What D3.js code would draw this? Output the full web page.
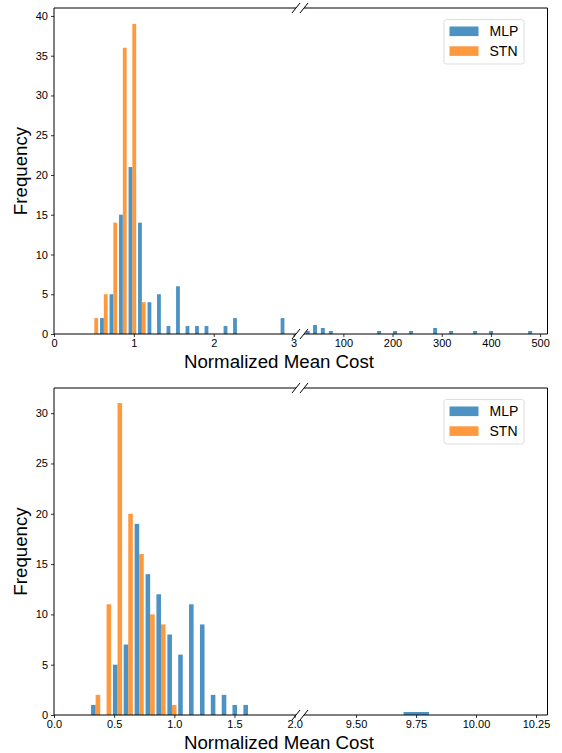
<!DOCTYPE html>
<html>
<head>
<meta charset="utf-8">
<script src="https://cdn.jsdelivr.net/npm/d3@7"></script>
<style>
  body { margin: 0; background: #fff; }
  svg { font-family: "Liberation Sans", Arial, sans-serif; }
</style>
</head>
<body>
<div id="chart"></div>
<script>
const seriesNames = ["MLP", "STN"];
const seriesColors = ["#1f77b4", "#ff7f0e"];

// top figure, low range: bin centres and counts
const topBins = [0.505, 0.624, 0.743, 0.862, 0.981, 1.100, 1.219, 1.338, 1.457, 1.576, 1.695,
                 1.814, 1.933, 2.052, 2.171, 2.290, 2.409, 2.528, 2.647, 2.766, 2.885];
const topMLP = [0, 2, 5, 15, 21, 14, 4, 5, 1, 6, 1, 1, 1, 0, 1, 2, 0, 0, 0, 0, 2];
const topSTN = [2, 5, 14, 36, 39, 4, 0, 0, 0, 0, 0, 0, 0, 0, 0, 0, 0, 0, 0, 0, 0];
// top figure, high range (only MLP)
const topHighBins = [27.6, 42.4, 58.3, 74.6, 172.6, 205.1, 237.6, 286.5, 319, 367.8, 400.4, 479.7];
const topHighMLP = [1, 3, 2, 1, 1, 1, 1, 2, 1, 1, 1, 1];
const topLowTicks = [0, 1, 2, 3];
const topHighTicks = [100, 200, 300, 400, 500];
const topYTicks = [0, 5, 10, 15, 20, 25, 30, 35, 40];

// bottom figure, low range
const botBins = [0.346, 0.437, 0.528, 0.617, 0.708, 0.799, 0.889, 0.980, 1.070, 1.160,
                 1.251, 1.341, 1.432, 1.521, 1.612];
const botMLP = [1, 0, 5, 7, 19, 14, 12, 8, 6, 11, 9, 2, 2, 1, 1];
const botSTN = [2, 11, 31, 20, 16, 10, 9, 1, 0, 0, 0, 0, 0, 0, 0];
// bottom figure, high range
const botHighBins = [9.751];
const botHighMLP = [1];
const botLowTicks = [0, 0.5, 1.0, 1.5, 2.0];
const botHighTicks = [9.5, 9.75, 10.0, 10.25];
const botYTicks = [0, 5, 10, 15, 20, 25, 30];

const xTitle = "Normalized Mean Cost";
const yTitle = "Frequency";

const svg = d3.select("#chart").append("svg")
    .attr("width", 562)
    .attr("height", 753);

function drawPanel(cfg) {
    const left = 54, split1 = 296, split2 = 304, right = 547.5;
    const top = cfg.top, bottom = cfg.bottom;
    const g = svg.append("g");

    const xLow = d3.scaleLinear().domain(cfg.lowDomain).range([left, split1]);
    const xHigh = d3.scaleLinear().domain(cfg.highDomain).range([split2, right]);
    const y = d3.scaleLinear().domain([0, cfg.yMax]).range([bottom, top]);
    const yHigh = d3.scaleLinear().domain([0, cfg.yHighMax]).range([bottom, top]);

    // paired bars, MLP left of bin centre, STN right
    [cfg.mlp, cfg.stn].forEach((vals, si) => {
        g.append("g")
            .selectAll("rect")
            .data(cfg.bins.map((c, i) => ({c: c, v: vals[i]})).filter(d => d.v > 0))
            .join("rect")
            .attr("x", d => si === 0 ? xLow(d.c - cfg.barW) : xLow(d.c))
            .attr("width", d => xLow(d.c + cfg.barW) - xLow(d.c))
            .attr("y", d => y(d.v))
            .attr("height", d => y(0) - y(d.v))
            .attr("fill", seriesColors[si])
            .attr("fill-opacity", 0.8);
    });

    g.append("g")
        .selectAll("rect")
        .data(cfg.highBins.map((c, i) => ({c: c, v: cfg.highMLP[i]})))
        .join("rect")
        .attr("x", d => xHigh(d.c - cfg.highBarW / 2))
        .attr("width", d => xHigh(d.c + cfg.highBarW / 2) - xHigh(d.c - cfg.highBarW / 2))
        .attr("y", d => yHigh(d.v))
        .attr("height", d => yHigh(0) - yHigh(d.v))
        .attr("fill", seriesColors[0])
        .attr("fill-opacity", 0.8);

    // axes
    const axLowX = g.append("g")
        .attr("transform", `translate(0,${bottom})`)
        .call(d3.axisBottom(xLow).tickValues(cfg.lowTicks).tickFormat(cfg.lowFmt)
            .tickSize(3).tickSizeOuter(0).tickPadding(2));
    const axHighX = g.append("g")
        .attr("transform", `translate(0,${bottom})`)
        .call(d3.axisBottom(xHigh).tickValues(cfg.highTicks).tickFormat(cfg.highFmt)
            .tickSize(3).tickSizeOuter(0).tickPadding(2));
    const axY = g.append("g")
        .attr("transform", `translate(${left},0)`)
        .call(d3.axisLeft(y).tickValues(cfg.yTicks).tickFormat(d3.format("d"))
            .tickSize(3).tickSizeOuter(0).tickPadding(3));
    [axLowX, axHighX, axY].forEach(a => {
        a.select(".domain").remove();
        a.selectAll("text").attr("font-size", "11px").attr("fill", "#000")
            .attr("font-family", "Liberation Sans, Arial, sans-serif");
        a.selectAll("line").attr("stroke", "#000").attr("stroke-width", 0.8);
    });

    // spines
    const spine = (x1, y1, x2, y2) => g.append("line")
        .attr("x1", x1).attr("y1", y1).attr("x2", x2).attr("y2", y2)
        .attr("stroke", "#000").attr("stroke-width", 1);
    spine(left, top, left, bottom);
    spine(left, top, split1, top);
    spine(left, bottom, split1, bottom);
    spine(split2, top, right, top);
    spine(split2, bottom, right, bottom);
    spine(right, top, right, bottom);

    // break marks
    [split1, split2].forEach(x => {
        [top, bottom].forEach(yy => spine(x - 4, yy + 5, x + 4, yy - 5));
    });

    // titles
    g.append("text")
        .attr("x", 279).attr("y", bottom + 34)
        .attr("text-anchor", "middle")
        .attr("font-size", "18.7px")
        .text(xTitle);
    g.append("text")
        .attr("transform", `translate(27,${(top + bottom) / 2}) rotate(-90)`)
        .attr("text-anchor", "middle")
        .attr("font-size", "18.7px")
        .text(yTitle);

    // legend
    const lx = right - 23.5 - 80, ly = top + 11.5;
    const leg = g.append("g").attr("transform", `translate(${lx},${ly})`);
    leg.append("rect")
        .attr("width", 80).attr("height", 44.5).attr("rx", 2.5)
        .attr("fill", "#fff").attr("fill-opacity", 0.8)
        .attr("stroke", "#d4d4d4").attr("stroke-width", 0.8);
    seriesNames.forEach((name, i) => {
        leg.append("rect")
            .attr("x", 5.5).attr("y", 7 + i * 19.8)
            .attr("width", 29).attr("height", 9.6)
            .attr("fill", seriesColors[i]).attr("fill-opacity", 0.8);
        leg.append("text")
            .attr("x", 45.5).attr("y", 16.8 + i * 19.8)
            .attr("font-size", "14px")
            .text(name);
    });
}

drawPanel({
    top: 8, bottom: 334,
    lowDomain: [0, 3.03], highDomain: [20, 515],
    yMax: 41, yHighMax: 108.7,
    bins: topBins, mlp: topMLP, stn: topSTN, barW: 0.0476,
    highBins: topHighBins, highMLP: topHighMLP, highBarW: 8,
    lowTicks: topLowTicks, highTicks: topHighTicks, yTicks: topYTicks,
    lowFmt: d3.format("d"), highFmt: d3.format("d")
});

drawPanel({
    top: 388, bottom: 715,
    lowDomain: [0, 2.011], highDomain: [9.283, 10.298],
    yMax: 32.5, yHighMax: 109,
    bins: botBins, mlp: botMLP, stn: botSTN, barW: 0.038,
    highBins: botHighBins, highMLP: botHighMLP, highBarW: 0.106,
    lowTicks: botLowTicks, highTicks: botHighTicks, yTicks: botYTicks,
    lowFmt: d3.format(".1f"), highFmt: d3.format(".2f")
});
</script>
</body>
</html>
